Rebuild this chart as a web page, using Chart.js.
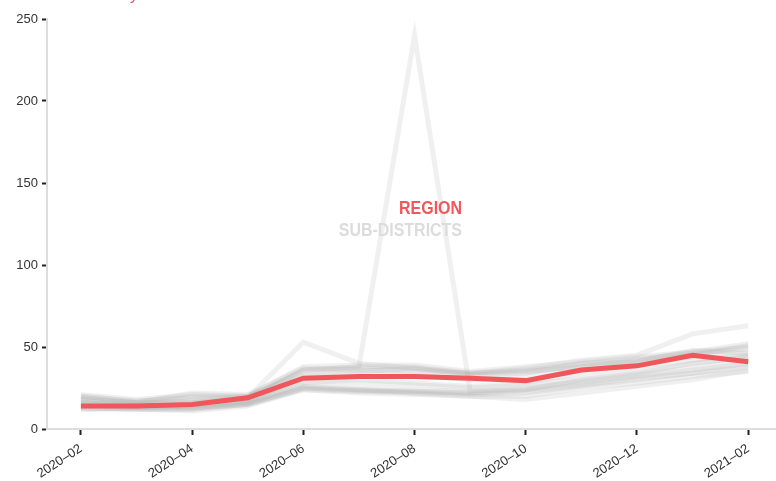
<!DOCTYPE html>
<html lang="en">
<head>
    <meta charset="UTF-8">
    <title>Region vs sub-districts</title>
    <script src="https://cdn.jsdelivr.net/npm/chart.js"></script>
    <style>
        body {
            margin: 0;
            background: white;
            font-family: "Liberation Sans", Arial, sans-serif;
        }
        canvas {
            display: block;
        }
    </style>
</head>
<body>
<canvas id="chart" width="776" height="481"></canvas>
<script>
    // months on the x axis, only every second one gets a tick
    const months = ["2020–02", "2020–03", "2020–04", "2020–05", "2020–06", "2020–07", "2020–08",
                    "2020–09", "2020–10", "2020–11", "2020–12", "2021–01", "2021–02"];
    const tickIdx = [0, 2, 4, 6, 8, 10, 12];
    const yTicks = [0, 50, 100, 150, 200, 250];

    const region = [14, 14, 15, 19, 31, 32, 32, 31, 29.5, 36, 38.5, 45, 41];

    const subDistricts = [
        [18, 16, 17, 18, 36, 38, 240, 23, 24, 30, 34, 40, 44],
        [20, 17, 19, 19, 53, 40, 37, 33, 35, 38, 42, 47, 50],
        [16, 15, 18, 20, 35, 37, 36, 34, 37, 42, 45, 58, 63],
        [21, 18, 21, 20, 38, 39, 39, 35, 38, 41, 44, 47, 52],
        [19, 16, 16, 19, 36, 38, 38, 34, 36, 40, 43, 46, 49],
        [13, 12, 12, 15, 25, 24, 23, 22, 24, 28, 32, 36, 40],
        [12, 12, 11, 14, 24, 23, 22, 21, 22, 26, 30, 34, 38],
        [15, 14, 14, 17, 27, 25, 24, 23, 25, 29, 33, 37, 42],
        [14, 13, 13, 16, 26, 24, 22, 20, 18, 22, 26, 30, 36],
        [17, 15, 16, 18, 30, 28, 27, 25, 27, 31, 35, 40, 44],
        [16, 14, 15, 17, 32, 34, 33, 30, 32, 37, 40, 44, 47],
        [18, 16, 22, 21, 37, 36, 35, 33, 34, 40, 41, 48, 46],
        [12, 13, 13, 15, 24, 22, 21, 20, 20, 25, 28, 32, 35],
        [15, 13, 14, 16, 28, 30, 28, 26, 28, 34, 38, 42, 45],
        [20, 17, 20, 20, 33, 35, 37, 34, 35, 38, 41, 45, 51],
        [13, 12, 12, 15, 25, 23, 23, 22, 23, 27, 31, 34, 39]
    ];

    const RED = "#ef575b";
    const GREY = "rgba(165, 165, 165, 0.17)";

    function toPoints(arr) {
        return arr.map((v, i) => ({ x: i, y: v }));
    }

    // first dataset is drawn on top, so region goes first
    let datasets = [{
        label: "Region",
        data: toPoints(region),
        borderColor: RED,
        borderWidth: 5
    }];
    subDistricts.forEach((s, i) => {
        datasets.push({
            label: "Sub-district " + (i + 1),
            data: toPoints(s),
            borderColor: GREY,
            borderWidth: 5
        });
    });

    // squeezed bold text, no narrow font is installed
    function narrowText(ctx, text, x, y, color) {
        ctx.save();
        ctx.translate(x, y);
        ctx.scale(0.84, 1);
        ctx.fillStyle = color;
        ctx.fillText(text, 0, 0);
        ctx.restore();
    }

    // text labels in the middle and the clipped title at the top
    const labelsPlugin = {
        id: "labels",
        afterDraw(chart) {
            let ctx = chart.ctx;
            ctx.save();
            ctx.textAlign = "right";
            ctx.textBaseline = "alphabetic";
            ctx.font = "bold 19px 'Liberation Sans', Arial, sans-serif";
            narrowText(ctx, "REGION", 462, 214, RED);
            narrowText(ctx, "SUB-DISTRICTS", 462, 236, "#dcdcdc");
            ctx.font = "16px 'Liberation Sans', Arial, sans-serif";
            ctx.fillStyle = RED;
            ctx.fillText("Weekly", 138, 0);
            ctx.restore();
        }
    };

    new Chart(document.getElementById("chart"), {
        type: "line",
        data: { datasets: datasets },
        plugins: [labelsPlugin],
        options: {
            responsive: false,
            animation: false,
            layout: { padding: { top: 19, right: 0, left: 0, bottom: 0 } },
            elements: {
                point: { radius: 0 },
                line: { tension: 0, borderCapStyle: "butt", borderJoinStyle: "miter" }
            },
            plugins: {
                legend: { display: false },
                tooltip: { enabled: false }
            },
            scales: {
                x: {
                    type: "linear",
                    min: -0.61,
                    max: 12.5,
                    afterBuildTicks: scale => { scale.ticks = tickIdx.map(v => ({ value: v })); },
                    afterFit: scale => { scale.height = 52; },
                    ticks: {
                        autoSkip: false,
                        minRotation: 33,
                        maxRotation: 33,
                        color: "#333",
                        font: { size: 13, family: "'Liberation Sans', Arial, sans-serif" },
                        padding: 6,
                        callback: v => months[v]
                    },
                    grid: {
                        drawOnChartArea: false,
                        drawTicks: true,
                        tickLength: 6,
                        tickColor: "#222",
                        tickWidth: 2
                    },
                    border: { color: "#dddddd", width: 2 }
                },
                y: {
                    min: 0,
                    max: 250,
                    afterBuildTicks: scale => { scale.ticks = yTicks.map(v => ({ value: v })); },
                    afterFit: scale => { scale.width = 47; },
                    ticks: {
                        color: "#333",
                        font: { size: 13, family: "'Liberation Sans', Arial, sans-serif" },
                        padding: 4
                    },
                    grid: {
                        drawOnChartArea: false,
                        drawTicks: true,
                        tickLength: 5,
                        tickColor: "#222",
                        tickWidth: 2
                    },
                    border: { color: "#dddddd", width: 2 }
                }
            }
        }
    });
</script>
</body>
</html>
